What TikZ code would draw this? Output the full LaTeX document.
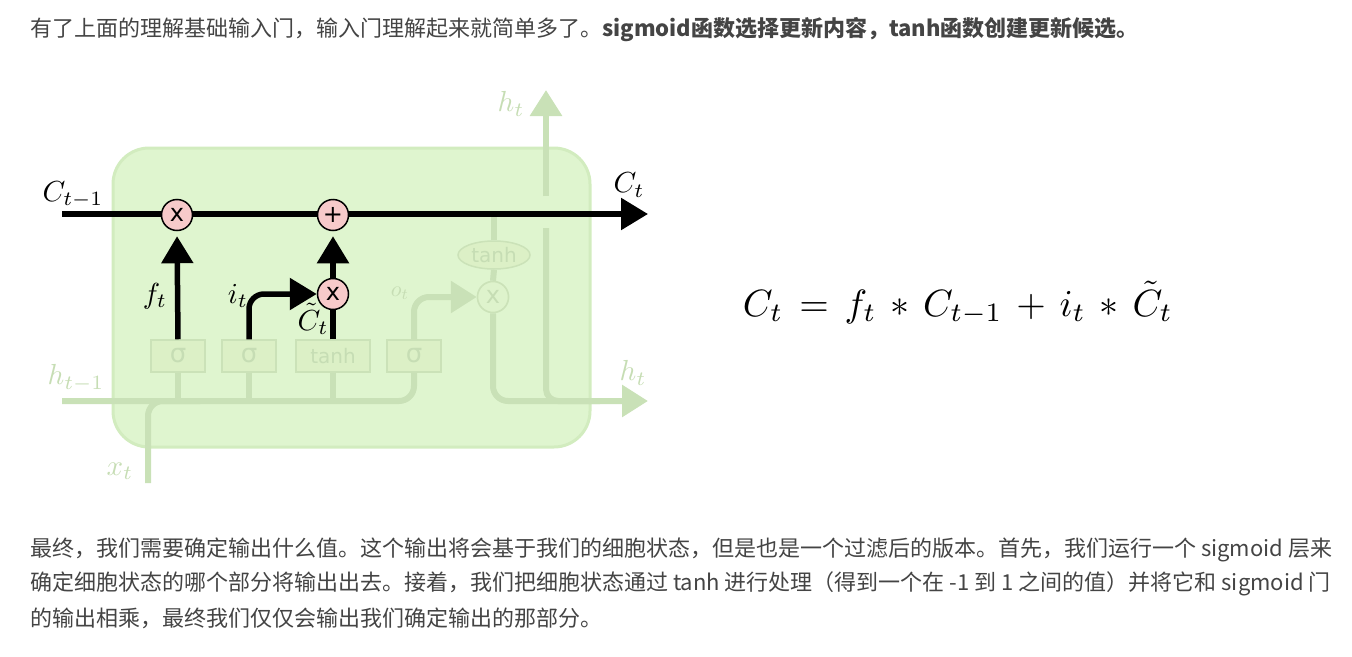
\documentclass[tikz,border=0pt]{standalone}
\usepackage{fontspec}
\newfontfamily\cjk{Noto Sans CJK SC}
\newfontfamily\dv{DejaVu Sans}
\usetikzlibrary{arrows.meta,shapes.geometric}
\definecolor{boxfill}{HTML}{DFF5CF}
\definecolor{boxedge}{HTML}{D2ECBF}
\definecolor{fadeline}{HTML}{C9E1B7}
\definecolor{layerfill}{HTML}{DCF0C6}
\definecolor{layeredge}{HTML}{CBE2B8}
\definecolor{fadetext}{HTML}{C6DDB4}
\definecolor{opfill}{HTML}{F7CACA}
\definecolor{bodytext}{HTML}{444444}
\newcommand\mylbl[1]{\scalebox{2.9}{$#1$}}
\newcommand\opgap{\mkern2.5mu}
\begin{document}
\begin{tikzpicture}[x=1pt,y=-1pt,
  cellbox/.style={draw=boxedge,fill=boxfill,line width=3pt,rounded corners=36pt},
  op/.style={circle,draw=black,fill=opfill,line width=1.5pt,minimum size=31pt,inner sep=0pt,font=\dv\fontsize{24}{24}\selectfont},
  fop/.style={circle,draw=layeredge,fill=boxfill!70!layerfill,line width=1.5pt,minimum size=31pt,inner sep=0pt,text=fadetext,font=\dv\fontsize{24}{24}\selectfont},
  layer/.style={rectangle,draw=layeredge,fill=layerfill,line width=1.5pt,minimum height=32pt,inner sep=0pt,text=fadetext,font=\dv\fontsize{20}{20}\selectfont},
  fadeell/.style={ellipse,draw=layeredge,fill=layerfill,line width=1.5pt,minimum width=72pt,minimum height=28pt,inner sep=0pt,text=fadetext,font=\dv\fontsize{20}{20}\selectfont},
  bl/.style={line width=5.5pt,black},
  fl/.style={line width=6pt,fadeline},
  btip/.style={-{Triangle[width=31pt,length=27pt]}},
  ftip/.style={-{Triangle[width=31pt,length=26pt]}},
  lab/.style={inner sep=0pt},
  flab/.style={lab,text=fadetext},
  txt/.style={font=\cjk\fontsize{22}{26}\selectfont,text=bodytext,anchor=west,inner sep=0pt}
]
\useasboundingbox (0,0) rectangle (1352,656);

% body text
\node[txt] (t1) at (30,30) {有了上面的理解基础输入门，输入门理解起来就简单多了。\bfseries sigmoid函数选择更新内容，tanh函数创建更新候选。};
\node[txt] (t2) at (30,550) {最终，我们需要确定输出什么值。这个输出将会基于我们的细胞状态，但是也是一个过滤后的版本。首先，我们运行一个 sigmoid 层来};
\node[txt] (t3) at (30,584) {确定细胞状态的哪个部分将输出出去。接着，我们把细胞状态通过 tanh 进行处理（得到一个在 -1 到 1 之间的值）并将它和 sigmoid 门};
\node[txt] (t4) at (30,618) {的输出相乘，最终我们仅仅会输出我们确定输出的那部分。};

% cell box
\draw[cellbox] (113,148) rectangle (590,447);

% coordinates
\coordinate (cin) at (62,214);
\coordinate (cout) at (648,214);
\coordinate (hin) at (62,401);
\coordinate (hout) at (648,401);
\coordinate (xin) at (148,483);
\coordinate (xj) at (200,401);
\coordinate (vlow) at (546,228);
\coordinate (vj) at (600,401);
\coordinate (vhi) at (546,196);
\coordinate (htop) at (546,90);

% nodes
\node[layer,minimum width=54pt,font=\dv\fontsize{26}{26}\selectfont] (s1) at (178,356) {σ};
\node[layer,minimum width=54pt,font=\dv\fontsize{26}{26}\selectfont] (s2) at (249,356) {σ};
\node[layer,minimum width=74pt] (tn) at (333,356) {tanh};
\node[layer,minimum width=54pt,font=\dv\fontsize{26}{26}\selectfont] (s4) at (414,356) {σ};
\node[fadeell] (te) at (494,255) {tanh};
\node[fop] (m3) at (493,297) {x};

% faded connectors
\draw[fl,rounded corners=15pt] (hin) -| (s4.south);
\draw[fl,rounded corners=15pt] (xin) |- (xj);
\draw[fl] (s1.south) -- (s1.south |- hin);
\draw[fl] (s2.south) -- (s2.south |- hin);
\draw[fl] (tn.south) -- (tn.south |- hin);
\draw[fl,ftip,rounded corners=15pt] (s4.north) |- (m3.west);
\draw[fl] (te.north) -- (te.north |- cin);
\draw[fl] (te.south) -- (m3.north);
\draw[fl,ftip,rounded corners=15pt] (m3.south) |- (hout);
\draw[fl,rounded corners=12pt] (vlow) |- (vj);
\draw[fl,ftip] (vhi) -- (htop);
\node[fop] at (m3) {x};

% faded labels
\node[flab] (lht) at (511,104) {\mylbl{h_t}};
\node[flab] (lhr) at (633,373) {\mylbl{h_t}};
\node[flab] (lhin) at (76,378) {\mylbl{h_{t-1}}};
\node[flab] (lxt) at (120,471) {\mylbl{x_t}};
\node[flab] (lot) at (400,293) {\scalebox{2.2}{$o_t$}};

% black part
\draw[bl,btip] (cin) -- (cout);
\node[op] (m1) at (177,215) {x};
\node[op] (ad) at (333,215) {+};
\node[op] (m2) at (333,294) {x};
\draw[bl,btip,shorten >=5pt] (s1.north) -- (m1.south);
\draw[bl,btip,rounded corners=15pt] (s2.north) |- (m2.west);
\draw[bl] (tn.north) -- (m2.south);
\draw[bl,btip,shorten >=5pt] (m2.north) -- (ad.south);

\node[lab] (lc1) at (73,195) {\mylbl{C_{t-1}}};
\node[lab] (lct) at (629,185) {\mylbl{C_t}};
\node[lab] (lft) at (155,296) {\mylbl{f_t}};
\node[lab] (lit) at (238,296) {\mylbl{i_t}};
\node[lab] (lctil) at (313,319) {\mylbl{\tilde{C}_t}};

% formula
\node[inner sep=0pt] (eq) at (958,303) {\scalebox{3.8}{$C_t \opgap= \opgap f_t \opgap* \opgap C_{t-1} \opgap+ \opgap i_t \opgap* \opgap \tilde{C}_t$}};
\end{tikzpicture}
\end{document}
